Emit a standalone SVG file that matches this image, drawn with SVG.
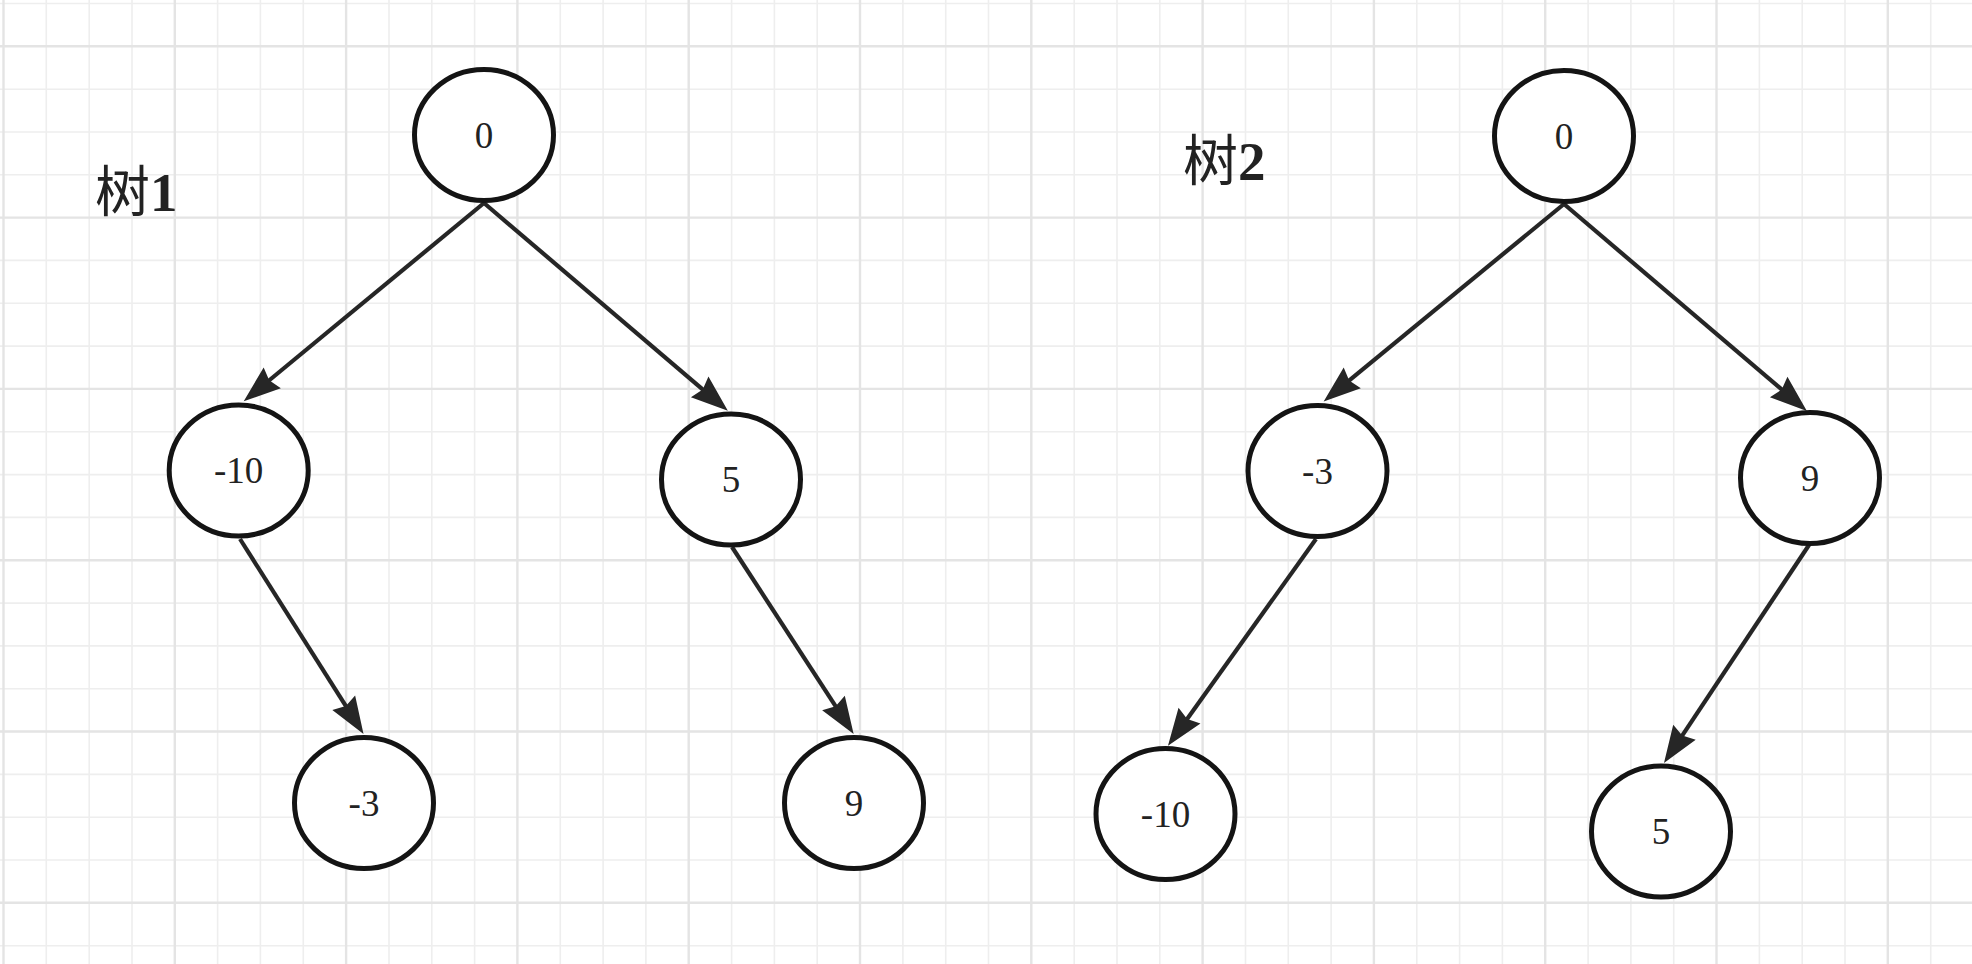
<svg xmlns="http://www.w3.org/2000/svg" width="1972" height="964" viewBox="0 0 1972 964">
<style>
.minor{stroke:#eeeeee;stroke-width:1.6;fill:none}
.major{stroke:#e4e4e4;stroke-width:2.4;fill:none}
.node ellipse{fill:#ffffff;stroke:#141414;stroke-width:5}
.node text{font-family:"Liberation Serif","Times New Roman",serif;font-size:37px;fill:#222222;text-anchor:middle}
.edge{stroke:#262626;stroke-width:4.2;fill:none;marker-end:url(#arr)}
.title{font-family:"Liberation Serif","Noto Sans CJK SC",serif;font-size:55px;fill:#222222}
.title .d{font-weight:bold}
</style>
<defs>
<marker id="arr" markerUnits="userSpaceOnUse" viewBox="0 0 37 27" refX="5" refY="13.5" markerWidth="37" markerHeight="27" orient="auto" overflow="visible">
<path d="M0,0 L37,13.5 L0,27 L4,13.5 Z" fill="#262626"/>
</marker>
</defs>
<rect x="0" y="0" width="1972" height="964" fill="#ffffff"/>
<g id="grid">
<path class="minor" d="M46.3,0V964M89.2,0V964M132,0V964M217.6,0V964M260.4,0V964M303.3,0V964M389,0V964M431.8,0V964M474.6,0V964M560.3,0V964M603.1,0V964M645.9,0V964M731.6,0V964M774.4,0V964M817.2,0V964M902.9,0V964M945.7,0V964M988.5,0V964M1074.2,0V964M1117,0V964M1159.8,0V964M1245.5,0V964M1288.3,0V964M1331.1,0V964M1416.8,0V964M1459.6,0V964M1502.4,0V964M1588.1,0V964M1630.9,0V964M1673.7,0V964M1759.4,0V964M1802.2,0V964M1845,0V964M1930.7,0V964
M0,3.5H1972M0,89.2H1972M0,132H1972M0,174.8H1972M0,260.4H1972M0,303.3H1972M0,346.1H1972M0,431.8H1972M0,474.6H1972M0,517.4H1972M0,603.1H1972M0,645.9H1972M0,688.7H1972M0,774.4H1972M0,817.2H1972M0,860H1972M0,945.7H1972"/>
<path class="major" d="M3.5,0V964M174.8,0V964M346.1,0V964M517.4,0V964M688.7,0V964M860,0V964M1031.3,0V964M1202.6,0V964M1373.9,0V964M1545.2,0V964M1716.5,0V964M1887.8,0V964
M0,46.3H1972M0,217.6H1972M0,388.9H1972M0,560.2H1972M0,731.5H1972M0,902.8H1972"/>
</g>
<text class="title" x="95" y="210.5">树<tspan class="d">1</tspan></text>
<text class="title" x="1183" y="179.5">树<tspan class="d">2</tspan></text>
<g id="connectors">
<path class="edge" d="M484,203L268.4,381"/>
<path class="edge" d="M484,203L703.5,390.1"/>
<path class="edge" d="M240,539L346.4,706.9"/>
<path class="edge" d="M732,547L836.2,707.2"/>
<path class="edge" d="M1564,204L1348.4,381.1"/>
<path class="edge" d="M1564,204L1782.5,390.2"/>
<path class="edge" d="M1316,539L1186.6,719.7"/>
<path class="edge" d="M1809,545L1681.7,736.4"/>
</g>
<g id="t1-0" class="node"><ellipse cx="484" cy="135" rx="69.5" ry="65.5"/><text x="484" y="147.5">0</text></g>
<g id="t1-m10" class="node"><ellipse cx="238.7" cy="470.5" rx="69.5" ry="65.5"/><text x="238.7" y="483">-10</text></g>
<g id="t1-5" class="node"><ellipse cx="731" cy="479.5" rx="69.5" ry="65.5"/><text x="731" y="492">5</text></g>
<g id="t1-m3" class="node"><ellipse cx="364" cy="803" rx="69.5" ry="65.5"/><text x="364" y="815.5">-3</text></g>
<g id="t1-9" class="node"><ellipse cx="854" cy="803" rx="69.5" ry="65.5"/><text x="854" y="815.5">9</text></g>
<g id="t2-0" class="node"><ellipse cx="1564" cy="136" rx="69.5" ry="65.5"/><text x="1564" y="148.5">0</text></g>
<g id="t2-m3" class="node"><ellipse cx="1317.5" cy="471" rx="69.5" ry="65.5"/><text x="1317.5" y="483.5">-3</text></g>
<g id="t2-9" class="node"><ellipse cx="1810" cy="478" rx="69.5" ry="65.5"/><text x="1810" y="490.5">9</text></g>
<g id="t2-m10" class="node"><ellipse cx="1165.5" cy="814" rx="69.5" ry="65.5"/><text x="1165.5" y="826.5">-10</text></g>
<g id="t2-5" class="node"><ellipse cx="1661" cy="831.5" rx="69.5" ry="65.5"/><text x="1661" y="844">5</text></g>
</svg>
